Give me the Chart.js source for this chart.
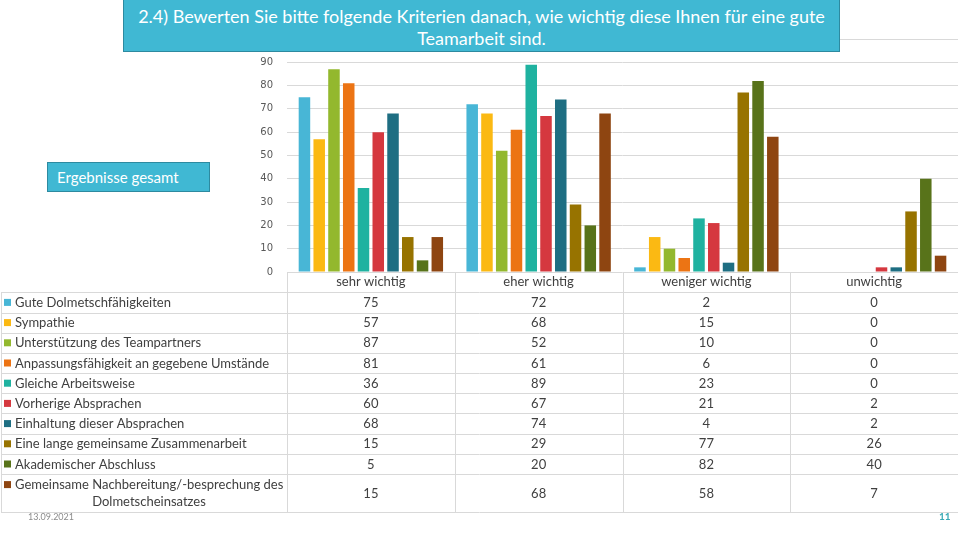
<!DOCTYPE html>
<html lang="de">
<head>
<meta charset="UTF-8">
<title>Teamarbeit Kriterien</title>
<script src="https://cdn.jsdelivr.net/npm/chart.js"></script>
<style>
  body {
    margin: 0;
    background: #fff;
    font-family: Lato, sans-serif;
  }
  #wrap {
    position: relative;
    width: 960px;
    height: 540px;
    overflow: hidden;
  }
  canvas {
    position: absolute;
    left: 0;
    top: 0;
  }
  .box {
    position: absolute;
    background: #40b8d3;
    border: 1px solid #2d8aa0;
    color: #fff;
    box-sizing: border-box;
  }
  #title {
    left: 123px;
    top: -1px;
    width: 717px;
    height: 53px;
    font-size: 18px;
    line-height: 22px;
    text-align: center;
    padding-top: 5px;
  }
  #sub {
    left: 47px;
    top: 162px;
    width: 163px;
    height: 30px;
    font-size: 15px;
    line-height: 28px;
    padding-left: 9px;
  }
  #date {
    position: absolute;
    left: 28px;
    top: 511px;
    font-size: 9px;
    color: #8c8c8c;
  }
  #page {
    position: absolute;
    left: 939px;
    top: 510px;
    font-size: 10px;
    font-weight: bold;
    color: #3aa9b5;
  }
</style>
</head>
<body>
<div id="wrap">
  <canvas id="chart" width="960" height="540"></canvas>
  <div id="title" class="box">2.4) Bewerten Sie bitte folgende Kriterien danach, wie wichtig diese Ihnen für eine gute<br>Teamarbeit sind.</div>
  <div id="sub" class="box">Ergebnisse gesamt</div>
  <div id="date">13.09.2021</div>
  <div id="page">11</div>
</div>
<script>
const categories = ['sehr wichtig', 'eher wichtig', 'weniger wichtig', 'unwichtig'];

const dolmetschfaehigkeiten = [75, 72, 2, 0];
const sympathie = [57, 68, 15, 0];
const unterstuetzung = [87, 52, 10, 0];
const anpassung = [81, 61, 6, 0];
const arbeitsweise = [36, 89, 23, 0];
const absprachen = [60, 67, 21, 2];
const einhaltung = [68, 74, 4, 2];
const zusammenarbeit = [15, 29, 77, 26];
const abschluss = [5, 20, 82, 40];
const nachbereitung = [15, 68, 58, 7];

const seriesNames = [
  'Gute Dolmetschfähigkeiten',
  'Sympathie',
  'Unterstützung des Teampartners',
  'Anpassungsfähigkeit an gegebene Umstände',
  'Gleiche Arbeitsweise',
  'Vorherige Absprachen',
  'Einhaltung dieser Absprachen',
  'Eine lange gemeinsame Zusammenarbeit',
  'Akademischer Abschluss',
  'Gemeinsame Nachbereitung/-besprechung des Dolmetscheinsatzes'
];
const seriesValues = [dolmetschfaehigkeiten, sympathie, unterstuetzung, anpassung, arbeitsweise,
  absprachen, einhaltung, zusammenarbeit, abschluss, nachbereitung];

const yTicks = [0, 10, 20, 30, 40, 50, 60, 70, 80, 90, 100];

const colors = ['#48b6d6', '#fbb913', '#93b82e', '#ec7414', '#1fb2a0',
  '#d5383f', '#1e6e82', '#977300', '#58731a', '#8e4511'];

const textColor = '#404040';
const lineColor = '#d9d9d9';

// data table under the chart, columns taken from the x scale
const tablePlugin = {
  id: 'dataTable',
  afterDraw(chart) {
    const ctx = chart.ctx;
    const x = chart.scales.x;
    const area = chart.chartArea;
    const catW = (area.right - area.left) / categories.length;
    const top = area.bottom;
    const headH = 20.3;
    const rowH = 20.2;
    const lastH = 38;

    const rowTops = [];
    let y = top + headH;
    for (let i = 0; i < seriesNames.length; i++) {
      rowTops.push(y);
      y += (i === seriesNames.length - 1) ? lastH : rowH;
    }
    const bottom = y;

    ctx.save();
    ctx.strokeStyle = lineColor;
    ctx.lineWidth = 1;
    ctx.beginPath();
    rowTops.concat([bottom]).forEach(ry => {
      const yy = Math.round(ry) + 0.5;
      ctx.moveTo(1, yy);
      ctx.lineTo(area.right, yy);
    });
    ctx.moveTo(1.5, top + headH);
    ctx.lineTo(1.5, bottom);
    categories.forEach((c, i) => {
      const xx = Math.round(x.getPixelForValue(i) - catW / 2) + 0.5;
      ctx.moveTo(xx, top);
      ctx.lineTo(xx, bottom);
    });
    ctx.stroke();

    ctx.font = '13px Lato, sans-serif';
    ctx.textBaseline = 'middle';
    seriesNames.forEach((name, i) => {
      const last = i === seriesNames.length - 1;
      const h = last ? lastH : rowH;
      const cy = rowTops[i] + h / 2;
      ctx.fillStyle = colors[i];
      ctx.fillRect(4, (last ? rowTops[i] + 7 : cy - 3.5), 7, 7);
      ctx.fillStyle = textColor;
      if (last) {
        ctx.textAlign = 'left';
        ctx.fillText('Gemeinsame Nachbereitung/-besprechung des', 15, rowTops[i] + 10.5);
        ctx.textAlign = 'center';
        ctx.fillText('Dolmetscheinsatzes', 149, rowTops[i] + 28);
      } else {
        ctx.textAlign = 'left';
        ctx.fillText(name, 15, cy + 0.5);
      }
      ctx.textAlign = 'center';
      seriesValues[i].forEach((v, j) => {
        ctx.fillText(String(v), x.getPixelForValue(j), cy + 0.5);
      });
    });
    ctx.restore();
  }
};

const ctx = document.getElementById('chart').getContext('2d');
new Chart(ctx, {
  type: 'bar',
  data: {
    labels: categories,
    datasets: seriesNames.map((name, i) => ({
      label: name,
      data: seriesValues[i],
      backgroundColor: colors[i],
      borderWidth: 0,
      barPercentage: 0.78,
      categoryPercentage: 0.88
    }))
  },
  options: {
    responsive: false,
    animation: false,
    layout: {
      padding: { top: 39, left: 0, right: 2, bottom: 0 }
    },
    plugins: {
      legend: { display: false },
      tooltip: { enabled: false }
    },
    scales: {
      x: {
        grid: { display: false },
        border: { display: false },
        ticks: {
          color: textColor,
          font: { family: 'Lato', size: 13 },
          padding: -6
        },
        afterFit(scale) { scale.height = 268; }
      },
      y: {
        min: 0,
        max: 100,
        afterBuildTicks(scale) { scale.ticks = yTicks.map(v => ({ value: v })); },
        grid: { color: lineColor, drawTicks: false },
        border: { display: false },
        ticks: {
          color: '#595959',
          font: { family: 'DejaVu Sans', size: 10 },
          padding: 14
        },
        afterFit(scale) { scale.width = 287; }
      }
    }
  },
  plugins: [tablePlugin]
});
</script>
</body>
</html>
